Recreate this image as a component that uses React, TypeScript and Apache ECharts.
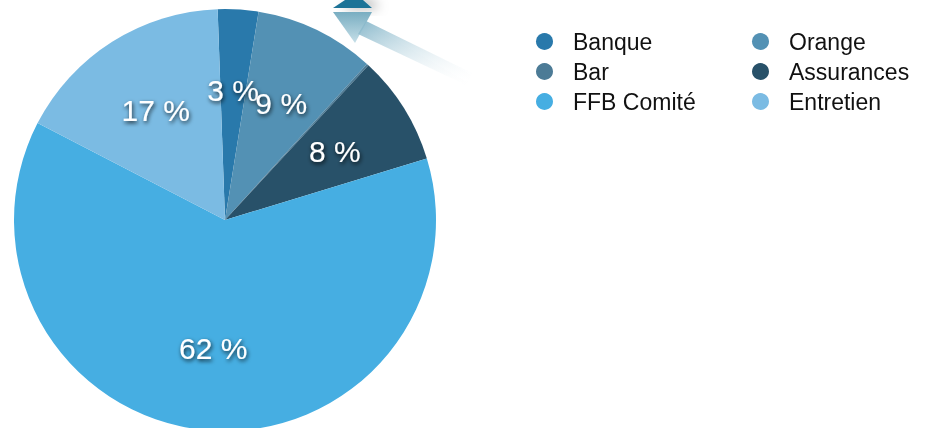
import React, { useEffect, useRef } from "react";
import * as echarts from "echarts";

const categories = ["Banque", "Orange", "Bar", "Assurances", "FFB Comité", "Entretien"];
const values = [3.1, 9.2, 0.15, 8.4, 62.3, 16.85];
const colors = ["#2979ab", "#5391b4", "#4c7b96", "#285169", "#46aee2", "#7bbbe3"];
const legendLeftColumn = ["Banque", "Bar", "FFB Comité"];
const legendRightColumn = ["Orange", "Assurances", "Entretien"];
const hiddenLabels = ["Bar"];

export default function App() {
  const ref = useRef<HTMLDivElement>(null);
  useEffect(() => {
    if (!ref.current) return;
    const chart = echarts.init(ref.current, undefined, { renderer: "svg" });
    const total = values.reduce((a, b) => a + b, 0);
    const data = categories.map((name, i) => ({
      name,
      value: values[i],
      itemStyle: { color: colors[i] },
    }));
    const labelData = categories.map((name, i) => ({
      name,
      value: values[i],
      label: { show: !hiddenLabels.includes(name) },
    }));
    const legendCommon = {
      orient: "vertical" as const,
      top: 30,
      padding: 0,
      itemWidth: 17,
      itemHeight: 17,
      itemGap: 7,
      icon: "circle",
      selectedMode: false,
      textStyle: {
        fontFamily: "Liberation Sans, Arial, sans-serif",
        fontSize: 23,
        color: "#111",
        padding: [0, 0, 0, 15],
      },
    };
    chart.setOption({
      animation: false,
      legend: [
        { ...legendCommon, left: 536, data: legendLeftColumn },
        { ...legendCommon, left: 752, data: legendRightColumn },
      ],
      graphic: [
        {
          type: "polygon",
          shape: { points: [[345, 0], [363, 0], [372, 8], [333, 8]] },
          style: {
            fill: "#1c7397",
            shadowBlur: 12,
            shadowColor: "rgba(0,0,0,0.35)",
            shadowOffsetX: 8,
          },
        },
        {
          type: "polygon",
          shape: { points: [[333, 12], [372, 12], [355, 43]] },
          style: {
            fill: {
              type: "linear",
              x: 0, y: 0, x2: 0, y2: 1,
              colorStops: [
                { offset: 0, color: "#78adc1" },
                { offset: 1, color: "#c6dfe8" },
              ],
            },
          },
        },
        {
          type: "polygon",
          shape: { points: [[366, 21], [472, 73], [466, 85], [358, 34]] },
          style: {
            fill: {
              type: "linear",
              x: 0, y: 0, x2: 1, y2: 1,
              colorStops: [
                { offset: 0, color: "rgba(130,180,200,0.95)" },
                { offset: 1, color: "rgba(255,255,255,0)" },
              ],
            },
          },
        },
      ],
      series: [
        {
          type: "pie",
          center: [225, 220],
          radius: [0, 211],
          startAngle: 92,
          clockwise: true,
          silent: true,
          label: { show: false },
          labelLine: { show: false },
          data,
        },
        {
          type: "pie",
          center: [225, 220],
          radius: [42, 211],
          startAngle: 92,
          clockwise: true,
          silent: true,
          avoidLabelOverlap: false,
          labelLayout: { hideOverlap: false },
          itemStyle: { color: "rgba(0,0,0,0)" },
          labelLine: { show: false },
          label: {
            show: true,
            position: "inside",
            fontFamily: "Liberation Sans, Arial, sans-serif",
            fontSize: 30,
            color: "#ffffff",
            textShadowColor: "rgba(0,0,0,0.8)",
            textShadowBlur: 4,
            textShadowOffsetX: 1,
            textShadowOffsetY: 2,
            formatter: (p: any) => Math.round((p.value / total) * 100) + " %",
          },
          data: labelData,
        },
      ],
    });
    return () => chart.dispose();
  }, []);
  return (
    <div
      ref={ref}
      style={{ position: "fixed", left: 0, top: 0, width: 934, height: 428 }}
    />
  );
}
